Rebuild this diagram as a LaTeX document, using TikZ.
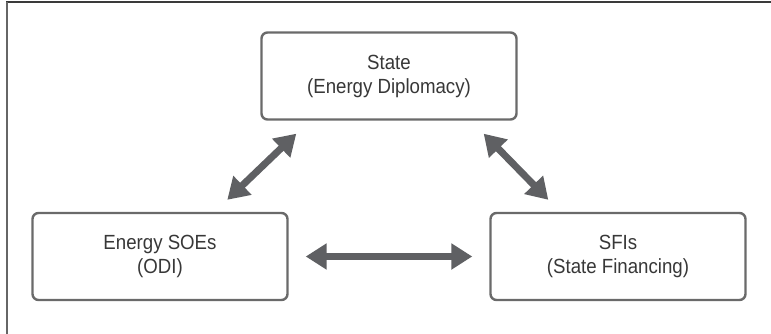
\documentclass[tikz,border=0pt]{standalone}
\usepackage{fontspec}
\setmainfont{Liberation Sans}
\newfontfamily\boxfont[FakeStretch=0.91]{Liberation Sans}
\usetikzlibrary{arrows.meta}
\definecolor{boxline}{HTML}{6A6A6A}
\definecolor{arrowgray}{HTML}{5F6063}
\definecolor{txt}{HTML}{383838}
\definecolor{frameline}{HTML}{3A3A3A}
\tikzset{
  actor/.style={draw=boxline, line width=2.4pt, rounded corners=6pt, fill=white,
    minimum width=255pt, minimum height=87pt, align=center, text=txt,
    font=\boxfont\fontsize{20.5pt}{24pt}\selectfont},
  biarrow/.style={draw=arrowgray, line width=7pt,
    {Triangle[length=21pt,width=25pt]}-{Triangle[length=21pt,width=25pt]}}
}
\begin{document}
\begin{tikzpicture}[x=1pt,y=-1pt]
\useasboundingbox (0,0) rectangle (771,334);
% frame
\draw[frameline, line width=1.5pt] (6,2) -- (771,2);
\draw[gray!80!black, line width=2pt] (6.5,2) -- (6.5,334);
% nodes
\node[actor] (state) at (389,76) {State\\(Energy Diplomacy)};
\node[actor] (soe) at (160,256.5) {Energy SOEs\\(ODI)};
\node[actor] (sfi) at (618,256.5) {SFIs\\(State Financing)};
% connector endpoints
\coordinate (lt) at ([shift={(36,13)}]state.south west);
\coordinate (lb) at ([shift={(196,-12)}]soe.north west);
\coordinate (rt) at ([shift={(-34,13)}]state.south east);
\coordinate (rb) at ([shift={(59,-12)}]sfi.north west);
% connectors
\draw[biarrow] (lt) -- (lb);
\draw[biarrow] (rt) -- (rb);
\draw[biarrow, shorten <=17pt, shorten >=17pt] (soe.east) -- (sfi.west);
\end{tikzpicture}
\end{document}
